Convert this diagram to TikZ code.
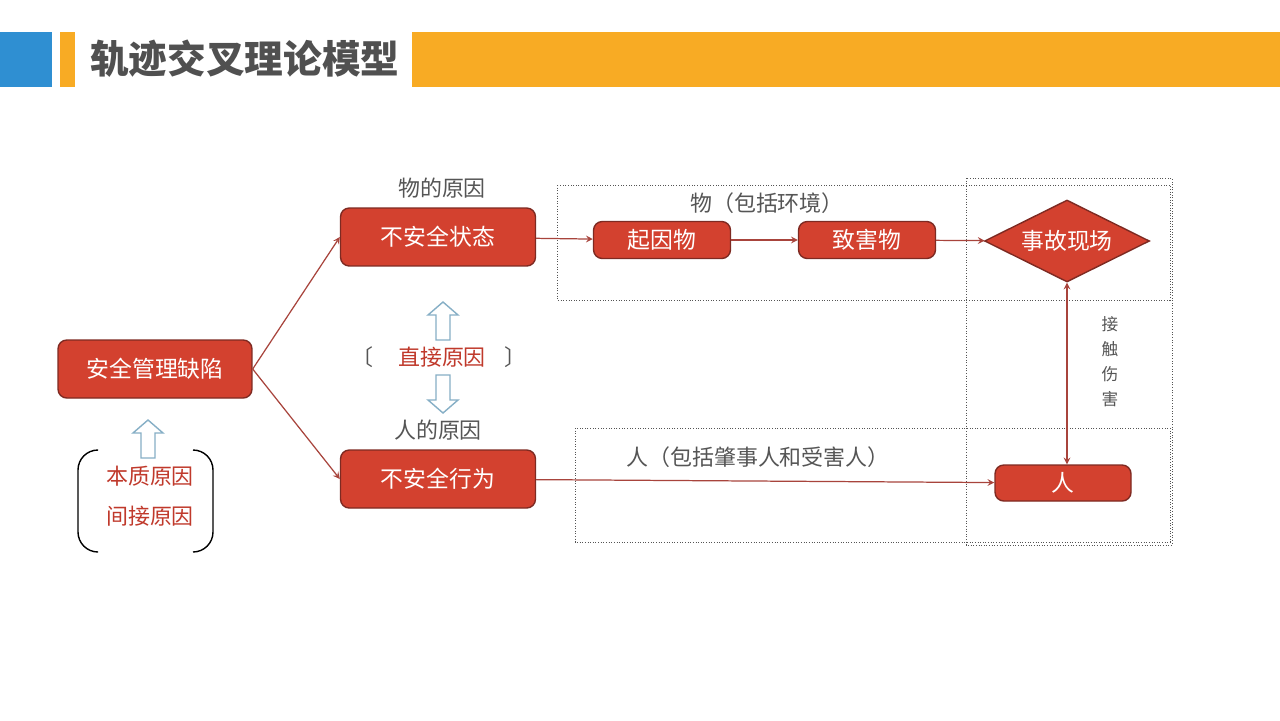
\documentclass[tikz,border=0pt]{standalone}
\usepackage{fontspec}
\setmainfont{Noto Sans CJK SC}
\usetikzlibrary{shapes.geometric}
\definecolor{barblue}{HTML}{2F8FD2}
\definecolor{barorange}{HTML}{F8AB24}
\definecolor{titlegray}{HTML}{505050}
\definecolor{boxred}{HTML}{D3412F}
\definecolor{boxline}{HTML}{7E2A22}
\definecolor{linkred}{HTML}{A8443C}
\definecolor{labgray}{HTML}{555555}
\definecolor{textred}{HTML}{C0392B}
\definecolor{arrowblue}{HTML}{86AFC6}
\begin{document}
\begin{tikzpicture}[x=0.02cm,y=-0.02cm,>=stealth,
  box/.style={draw=boxline,fill=boxred,rounded corners=5pt,line width=0.8pt,text=white,font=\fontsize{13}{15}\selectfont,minimum height=1.16cm},
  lbl/.style={text=labgray,font=\fontsize{12.5}{15}\selectfont},
  redlbl/.style={text=textred,font=\fontsize{12.5}{15}\selectfont},
  area/.style={draw=labgray,densely dotted,line width=0.5pt},
  link/.style={->,draw=linkred,line width=0.7pt},
  hollow/.style={draw=arrowblue,fill=white,line width=0.8pt,line join=miter},
  uparrow/.pic={\draw[hollow] (-7,0) -- (-7,-25) -- (-15,-25) -- (0,-38) -- (15,-25) -- (7,-25) -- (7,0) -- cycle;}]
\useasboundingbox (0,0) rectangle (1280,720);
\fill[white] (0,0) rectangle (1280,720);
% title bar
\fill[barblue] (0,32) rectangle (52,87);
\fill[barorange] (60,32) rectangle (75,87);
\fill[barorange] (412,32) rectangle (1280,87);
\node[anchor=west,text=titlegray,font=\fontsize{22}{26}\selectfont\bfseries] (title) at (84,59) {轨迹交叉理论模型};
% dotted areas
\draw[area] (557,185) rectangle (1170,300);
\draw[area] (575,428) rectangle (1170,542);
\draw[area] (966,178) rectangle (1172,545);
% boxes
\node[box,minimum width=3.88cm] (gl) at (155,369) {安全管理缺陷};
\node[box,minimum width=3.9cm] (zt) at (438,237) {不安全状态};
\node[box,minimum width=3.9cm] (xw) at (438,479) {不安全行为};
\node[box,minimum width=2.74cm,minimum height=0.74cm] (qy) at (662,240) {起因物};
\node[box,minimum width=2.74cm,minimum height=0.74cm] (zh) at (867,240) {致害物};
\node[box,diamond,rounded corners=0pt,minimum width=3.3cm,minimum height=1.64cm,inner sep=0pt,
  label={[text=white,font=\fontsize{13}{15}\selectfont]center:事故现场}] (sc) at (1067,241) {};
\node[box,minimum width=2.72cm,minimum height=0.72cm] (ren) at (1063,483) {人};
% labels
\node[lbl] (wy) at (442,188) {物的原因};
\node[lbl] (ry) at (438,430) {人的原因};
\node[lbl] (wu) at (767,203) {物（包括环境）};
\node[lbl] (rr) at (758,457) {人（包括肇事人和受害人）};
\node[redlbl] (zj) at (442,357) {直接原因};
\node[lbl] (lb) at (362,357) {〔};
\node[lbl] (rb) at (515,357) {〕};
\node[redlbl] (bz) at (150,476) {本质原因};
\node[redlbl] (jj) at (150,516) {间接原因};
\node[text=labgray,font=\fontsize{9.5}{14.2}\selectfont,align=center] (jc) at (1110,362) {接\\触\\伤\\害};
% hollow arrows and brackets
\pic at (443,340) {uparrow};
\pic[rotate=180] at (443,375) {uparrow};
\pic at (148,458) {uparrow};
\draw[line width=0.8pt,rounded corners=0.4cm] (98,450) -- (78,450) -- (78,552) -- (98,552);
\draw[line width=0.8pt,rounded corners=0.4cm] (193,450) -- (213,450) -- (213,552) -- (193,552);
% connectors
\draw[link] (gl.east) -- (zt.west);
\draw[link] (gl.east) -- (xw.west);
\draw[link] (zt) -- (qy);
\draw[link] (qy) -- (zh);
\draw[link] (zh) -- (sc);
\draw[link] (xw) -- (ren);
\draw[link,<->] (sc.south) -- (sc.south |- ren.north);
\end{tikzpicture}
\end{document}
